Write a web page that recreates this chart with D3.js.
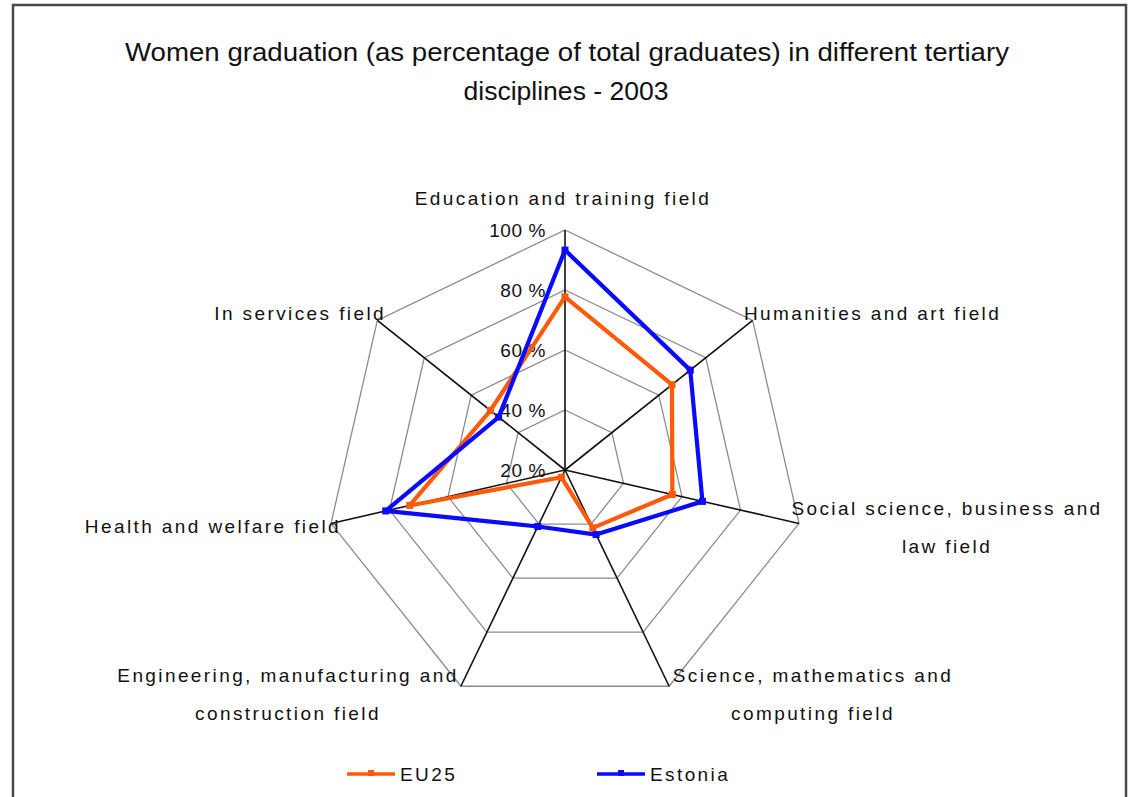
<!DOCTYPE html>
<meta charset="utf-8">
<html>
<head>
<title>Women graduation radar</title>
<style>
body { margin: 0; background: #fff; }
svg text { font-family: "Liberation Sans", Arial, sans-serif; fill: #111; }
</style>
</head>
<body>
<svg id="chart" width="1129" height="797"></svg>

<script src="https://cdnjs.cloudflare.com/ajax/libs/d3/7.8.5/d3.min.js"></script>
<script>
// data
var categories = ["Education and training field", "Humanities and art field",
  "Social science, business and law field", "Science, mathematics and computing field",
  "Engineering, manufacturing and construction field", "Health and welfare field",
  "In services field"];
var eu25 = [77.7, 65.6, 56.7, 41.4, 22.7, 73.1, 51.8];
var estonia = [93.3, 73.4, 67.0, 43.9, 40.9, 81.3, 48.3];
var ticks = [20, 40, 60, 80, 100];
var tickLabels = ["20 %", "40 %", "60 %", "80 %", "100 %"];

// label lines and where they sit (layout only)
var labelLines = [
  [["Education and training field"], 563, 205, "middle"],
  [["Humanities and art field"], 744, 320, "start"],
  [["Social science, business and", "law field"], 947, 515, "middle"],
  [["Science, mathematics and", "computing field"], 813, 682, "middle"],
  [["Engineering, manufacturing and", "construction field"], 288, 682, "middle"],
  [["Health and welfare field"], 341, 533, "end"],
  [["In services field"], 386, 320, "end"]
];

var svg = d3.select("#chart");
var cx = 565, cy = 470;

var r = d3.scaleLinear().domain([20, 100]).range([0, 240]);
var angle = d3.scaleLinear().domain([0, categories.length]).range([0, 2 * Math.PI]);

function pt(i, v) {
  var a = angle(i);
  return [cx + r(v) * Math.sin(a), cy - r(v) * Math.cos(a)];
}

// frame
svg.append("rect")
  .attr("x", 13).attr("y", 5)
  .attr("width", 1113).attr("height", 820)
  .attr("fill", "none")
  .attr("stroke", "#4a4a4a")
  .attr("stroke-width", 2.5);

// title
var title = svg.append("text")
  .attr("text-anchor", "middle")
  .style("font-family", "'Liberation Sans Narrow', 'Arial Narrow', 'Liberation Sans', sans-serif")
  .style("font-size", "25px");
title.append("tspan").attr("x", 567).attr("y", 61)
  .attr("textLength", 884).attr("lengthAdjust", "spacingAndGlyphs")
  .text("Women graduation (as percentage of total graduates) in different tertiary");
title.append("tspan").attr("x", 566).attr("y", 100)
  .attr("textLength", 205).attr("lengthAdjust", "spacingAndGlyphs")
  .text("disciplines - 2003");

// grid rings
var line = d3.line();
ticks.slice(1).forEach(function(t) {
  var ring = d3.range(categories.length).map(function(i) { return pt(i, t); });
  svg.append("path")
    .attr("d", line(ring) + "Z")
    .attr("fill", "none")
    .attr("stroke", "#8c8c8c")
    .attr("stroke-width", 1.3);
});

// spokes
categories.forEach(function(c, i) {
  var e = pt(i, 100);
  svg.append("line")
    .attr("x1", cx).attr("y1", cy)
    .attr("x2", e[0]).attr("y2", e[1])
    .attr("stroke", "#111")
    .attr("stroke-width", 1.6);
});

// tick labels
svg.selectAll(".tick")
  .data(ticks)
  .enter().append("text")
    .attr("class", "tick")
    .attr("x", cx - 19)
    .attr("y", function(d) { return cy - r(d) + 7; })
    .attr("text-anchor", "end")
    .style("font-size", "19px")
    .style("letter-spacing", "0.6px")
    .text(function(d, i) { return tickLabels[i]; });

// series
var series = [
  {name: "EU25", values: eu25, color: "#ff5a0a"},
  {name: "Estonia", values: estonia, color: "#0a0aff"}
];

series.forEach(function(s) {
  var pts = s.values.map(function(v, i) { return pt(i, v); });
  svg.append("path")
    .attr("d", line(pts) + "Z")
    .attr("fill", "none")
    .attr("stroke", s.color)
    .attr("stroke-width", 4.2)
    .attr("stroke-linejoin", "round");
  svg.selectAll(null)
    .data(pts)
    .enter().append("rect")
      .attr("x", function(d) { return d[0] - 3.5; })
      .attr("y", function(d) { return d[1] - 3.5; })
      .attr("width", 7).attr("height", 7)
      .attr("fill", s.color);
});

// category labels
labelLines.forEach(function(l) {
  var t = svg.append("text")
    .attr("text-anchor", l[3])
    .style("font-size", "19px")
    .style("letter-spacing", "2.4px");
  l[0].forEach(function(s, j) {
    t.append("tspan").attr("x", l[1]).attr("y", l[2] + j * 38).text(s);
  });
});

// legend
var legendX = [347, 597];
series.forEach(function(s, i) {
  var g = svg.append("g").attr("transform", "translate(" + legendX[i] + ",774)");
  g.append("line").attr("x1", 0).attr("x2", 48).attr("y1", 0).attr("y2", 0)
    .attr("stroke", s.color).attr("stroke-width", 3.5);
  g.append("rect").attr("x", 21).attr("y", -4).attr("width", 6).attr("height", 6)
    .attr("fill", s.color);
  g.append("text").attr("x", 53).attr("y", 7)
    .style("font-size", "19px")
    .style("letter-spacing", "2.4px")
    .text(s.name);
});
</script>
</body>
</html>
